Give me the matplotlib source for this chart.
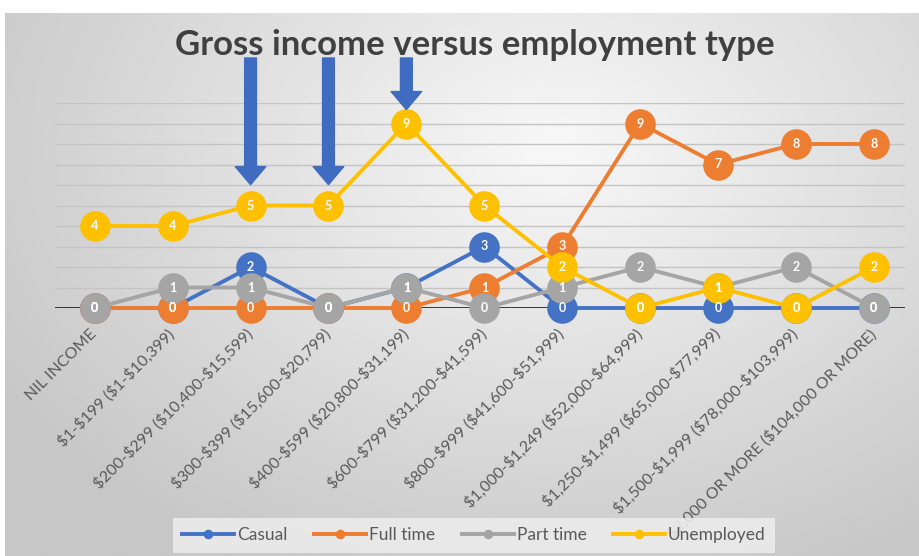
"""Gross income versus employment type: Excel-style line chart with labelled markers."""

import matplotlib.pyplot as plt
import numpy as np


CATEGORIES = [
    "NIL INCOME",
    "$1-$199 ($1-$10,399)",
    "$200-$299 ($10,400-$15,599)",
    "$300-$399 ($15,600-$20,799)",
    "$400-$599 ($20,800-$31,199)",
    "$600-$799 ($31,200-$41,599)",
    "$800-$999 ($41,600-$51,999)",
    "$1,000-$1,249 ($52,000-$64,999)",
    "$1,250-$1,499 ($65,000-$77,999)",
    "$1,500-$1,999 ($78,000-$103,999)",
    "$2,000 OR MORE ($104,000 OR MORE)",
]

CASUAL = [0, 0, 2, 0, 1, 3, 0, 0, 0, 0, 0]
FULL_TIME = [0, 0, 0, 0, 0, 1, 3, 9, 7, 8, 8]
PART_TIME = [0, 1, 1, 0, 1, 0, 1, 2, 1, 2, 0]
UNEMPLOYED = [4, 4, 5, 5, 9, 5, 2, 0, 1, 0, 2]

SERIES_NAMES = ["Casual", "Full time", "Part time", "Unemployed"]
SERIES_COLORS = ["#4472C4", "#ED7D31", "#A5A5A5", "#FFC000"]

# highlighted points on the Unemployed line
ARROW_INDEXES = [2, 3, 4]
ARROW_GAPS = [15, 15, 10]

TITLE = "Gross income versus employment type"
TEXT_COLOR = "#595959"


def draw_background(fig: plt.Figure) -> None:
    """Soft grey radial gradient like the Office chart style."""
    bg = fig.add_axes([5 / 920, 0, 915 / 920, 543 / 556], zorder=-10)
    yy, xx = np.mgrid[0:1:200j, 0:1:300j]
    dist = np.sqrt(((xx - 0.6) / 0.75) ** 2 + ((yy - 0.75) / 0.9) ** 2)
    shade = np.clip(0.97 - 0.2 * dist, 0.78, 0.97)
    bg.imshow(shade, cmap="gray", vmin=0, vmax=1, aspect="auto", origin="lower",
              extent=[0, 1, 0, 1])
    bg.axis("off")


def main() -> None:
    plt.rcParams["font.family"] = ["Lato", "DejaVu Sans"]

    fig = plt.figure(figsize=(9.2, 5.56), dpi=100, facecolor="white")
    draw_background(fig)

    ax = fig.add_axes([55 / 920, 248 / 556, 850 / 920, 205 / 556])
    ax.set_facecolor("none")

    x = np.arange(len(CATEGORIES))
    all_series = [CASUAL, FULL_TIME, PART_TIME, UNEMPLOYED]

    for values, name, color in zip(all_series, SERIES_NAMES, SERIES_COLORS):
        ax.plot(x, values, color=color, lw=2.8, marker="o", markersize=21,
                markeredgecolor=color, label=name, clip_on=False, zorder=3)

    for values in all_series:
        for xi, v in zip(x, values):
            ax.text(xi, v, str(v), color="white", fontsize=9, fontweight="bold",
                    ha="center", va="center", zorder=6, clip_on=False)

    for idx, gap in zip(ARROW_INDEXES, ARROW_GAPS):
        ax.annotate(
            "",
            xy=(idx, UNEMPLOYED[idx]),
            xytext=(idx, 1 - 58 / 556),
            textcoords=("data", "figure fraction"),
            annotation_clip=False,
            arrowprops=dict(
                arrowstyle="simple,head_length=1.3,head_width=2.2,tail_width=0.85",
                color="#3F6BC0",
                shrinkA=0,
                shrinkB=gap,
                mutation_scale=10,
            ),
            zorder=7,
        )

    ax.set_xlim(-0.51, 10.4)
    ax.set_ylim(0, 10)
    ax.set_yticks(np.arange(0, 11, 1))
    ax.yaxis.grid(True, color="#c4c4c4", lw=1)
    ax.set_axisbelow(True)
    ax.tick_params(axis="y", left=False, labelleft=False)
    ax.axhline(0, color="#262626", lw=2, zorder=2)

    # escape the dollar signs so they are not read as mathtext
    tick_labels = [c.replace("$", r"\$") for c in CATEGORIES]
    ax.set_xticks(x)
    ax.set_xticklabels(tick_labels, rotation=45, ha="right", va="center",
                       rotation_mode="anchor", fontsize=11.5, color=TEXT_COLOR)
    ax.tick_params(axis="x", length=0, pad=17)

    for spine in ax.spines.values():
        spine.set_visible(False)

    fig.text(475 / 920, 1 - 45 / 556, TITLE, ha="center", va="center",
             fontsize=25, fontweight="bold", color="#404040")

    legend = fig.legend(
        loc="lower center",
        bbox_to_anchor=(474 / 920, 3 / 556),
        borderaxespad=0,
        ncol=4,
        fontsize=12.5,
        frameon=True,
        facecolor="#ececec",
        edgecolor="none",
        framealpha=0.88,
        fancybox=False,
        borderpad=0.55,
        handlelength=3.0,
        handletextpad=0.15,
        columnspacing=1.55,
        markerscale=0.28,
        labelcolor=TEXT_COLOR,
    )
    legend.set_zorder(10)

    fig.savefig("out.png", dpi=100)


if __name__ == "__main__":
    main()
